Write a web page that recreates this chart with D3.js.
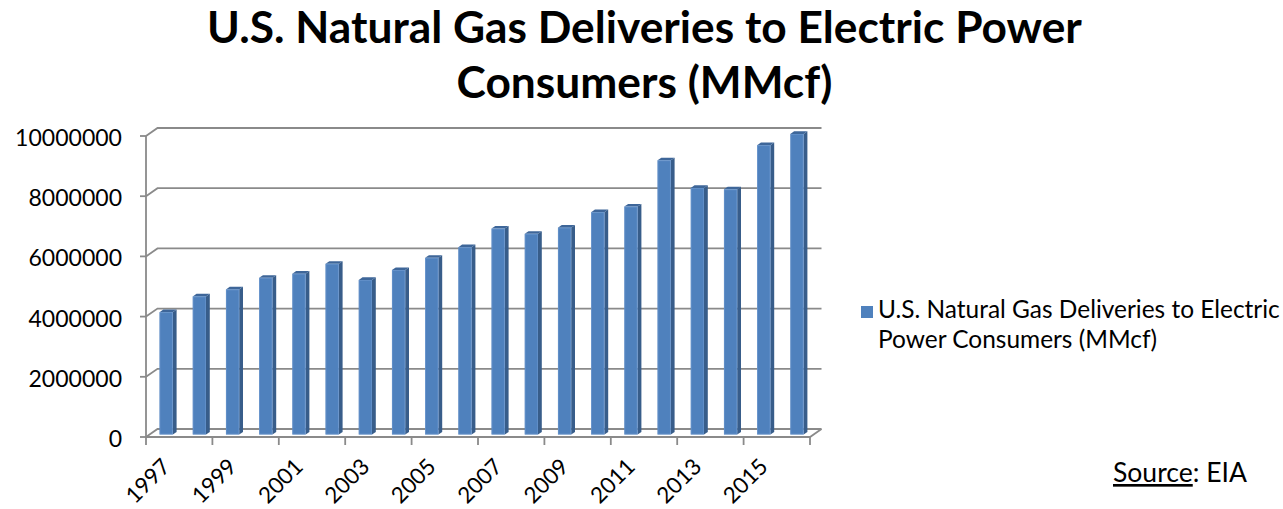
<!DOCTYPE html>
<html><head><meta charset="utf-8">
<script src="https://cdn.jsdelivr.net/npm/d3@7"></script>
<style>html,body{margin:0;padding:0;background:#fff;} svg{display:block;}</style>
</head><body>
<svg id="chart" width="1283" height="509"></svg>
<script>
const categories = ["1997","1998","1999","2000","2001","2002","2003","2004","2005","2006",
                    "2007","2008","2009","2010","2011","2012","2013","2014","2015","2016"];
const values = [4065000, 4588000, 4820000, 5206000, 5342000, 5672000, 5135000, 5464000, 5869000, 6222000,
                6841000, 6668000, 6873000, 7387000, 7574000, 9111000, 8191000, 8146000, 9613000, 9986000];
const yTicks = [0, 2000000, 4000000, 6000000, 8000000, 10000000];
const xTickLabels = ["1997","1999","2001","2003","2005","2007","2009","2011","2013","2015"];
const titleLines = ["U.S. Natural Gas Deliveries to Electric Power", "Consumers (MMcf)"];
const legendLines = ["U.S. Natural Gas Deliveries to Electric", "Power Consumers (MMcf)"];
const sourceLabel = "Source";
const sourceName = ": EIA";

const FONT = "Lato, 'Open Sans', sans-serif";
const GRID = "#8a8a8a";
const FRONT = "#4F81BD", SIDE = "#385D8A", TOP = "#3E6699";

const svg = d3.select("#chart");
const x0 = 146, x1 = 810, yBase = 437, yTop = 136;
const dx = 11.5, dy = -8;           // depth projection of the floor / back wall
const bf = 0.31, bb = 0.64;         // bar depth (front / back fraction)

const x = d3.scaleBand().domain(categories).range([x0, x1]).padding(0);
const y = d3.scaleLinear().domain([0, 10000000]).range([yBase, yTop]);

function fit(sel, target) {
  const len = sel.node().getComputedTextLength();
  const fs = parseFloat(sel.attr("font-size")) * target / len;
  sel.attr("font-size", fs);
  return fs;
}

// back wall gridlines + side diagonals
const grid = svg.append("g").attr("stroke", GRID).attr("stroke-width", 1.8).attr("fill", "none");
yTicks.forEach(t => {
  grid.append("path").attr("d", `M${x0},${y(t)} L${x0+dx},${y(t)+dy} L${x1+dx},${y(t)+dy}`);
});
// floor front edge
grid.append("path").attr("d", `M${x0},${yBase} L${x1},${yBase} L${x1+dx},${yBase+dy}`);
// y axis line + ticks
grid.append("line").attr("x1", x0).attr("x2", x0).attr("y1", y(10000000)).attr("y2", yBase);
yTicks.forEach(t => grid.append("line").attr("x1", x0-6).attr("x2", x0).attr("y1", y(t)).attr("y2", y(t)));
// x ticks every two categories
categories.forEach((c, i) => {
  if (i % 2 === 0) grid.append("line").attr("x1", x(c)).attr("x2", x(c)).attr("y1", yBase).attr("y2", yBase+8);
});
grid.append("line").attr("x1", x1).attr("x2", x1).attr("y1", yBase).attr("y2", yBase+8);

// bars
const w = x.bandwidth() * 0.4;
const ddx = dx * (bb - bf), ddy = dy * (bb - bf);
const bars = svg.append("g");
categories.forEach((c, i) => {
  const v = values[i];
  const left = x(c) + (x.bandwidth() - w) / 2 + dx * bf;
  const top = y(v) + dy * bf;
  const bottom = y(0) + dy * bf;
  bars.append("path").attr("fill", SIDE)
    .attr("d", `M${left+w},${top} L${left+w+ddx},${top+ddy} L${left+w+ddx},${bottom+ddy} L${left+w},${bottom} Z`);
  bars.append("path").attr("fill", TOP)
    .attr("d", `M${left},${top} L${left+ddx},${top+ddy} L${left+w+ddx},${top+ddy} L${left+w},${top} Z`);
  bars.append("rect").attr("x", left).attr("y", top).attr("width", w).attr("height", bottom - top)
    .attr("fill", FRONT);
  bars.append("rect").attr("x", left + 0.5).attr("y", top + 0.5).attr("width", w - 1).attr("height", bottom - top - 1)
    .attr("fill", "none").attr("stroke", "#6f9ad0").attr("stroke-width", 0.8).attr("opacity", 0.7);
});

// y labels
const yl = svg.append("g").attr("font-family", FONT).attr("fill", "#000");
const probe = yl.append("text").attr("font-size", 24).text("10000000");
const yfs = fit(probe, 107);
probe.remove();
yTicks.forEach(t => {
  yl.append("text").attr("x", 122).attr("y", y(t) + 1).attr("text-anchor", "end")
    .attr("dominant-baseline", "central").attr("font-size", yfs).text(String(t));
});

// x labels
categories.forEach((c, i) => {
  if (xTickLabels.indexOf(c) < 0) return;
  const cx = x(c) + x.bandwidth() / 2 + 9;
  const cy = yBase + 31;
  yl.append("text").attr("transform", `translate(${cx},${cy}) rotate(-45)`)
    .attr("text-anchor", "end").attr("font-size", yfs * 0.97).text(c);
});

// title
const tg = svg.append("g").attr("font-family", FONT).attr("font-weight", "bold").attr("fill", "#000")
  .attr("text-anchor", "middle");
const t1 = tg.append("text").attr("x", 644.5).attr("y", 43).attr("font-size", 36).text(titleLines[0]);
const tfs = fit(t1, 875);
tg.append("text").attr("x", 644.5).attr("y", 98).attr("font-size", tfs).text(titleLines[1]);

// legend
const lg = svg.append("g").attr("font-family", FONT).attr("fill", "#000");
lg.append("rect").attr("x", 861).attr("y", 306).attr("width", 12).attr("height", 12).attr("fill", FRONT);
const l1 = lg.append("text").attr("x", 878).attr("y", 318).attr("font-size", 22).text(legendLines[0]);
const lfs = fit(l1, 402);
lg.append("text").attr("x", 878).attr("y", 348).attr("font-size", lfs).text(legendLines[1]);

// source
const src = svg.append("text").attr("x", 1113).attr("y", 482).attr("font-family", FONT)
  .attr("font-size", 22).attr("fill", "#000");
src.append("tspan").attr("text-decoration", "underline").text(sourceLabel);
src.append("tspan").text(sourceName);
fit(src, 134);
</script>
</body></html>
